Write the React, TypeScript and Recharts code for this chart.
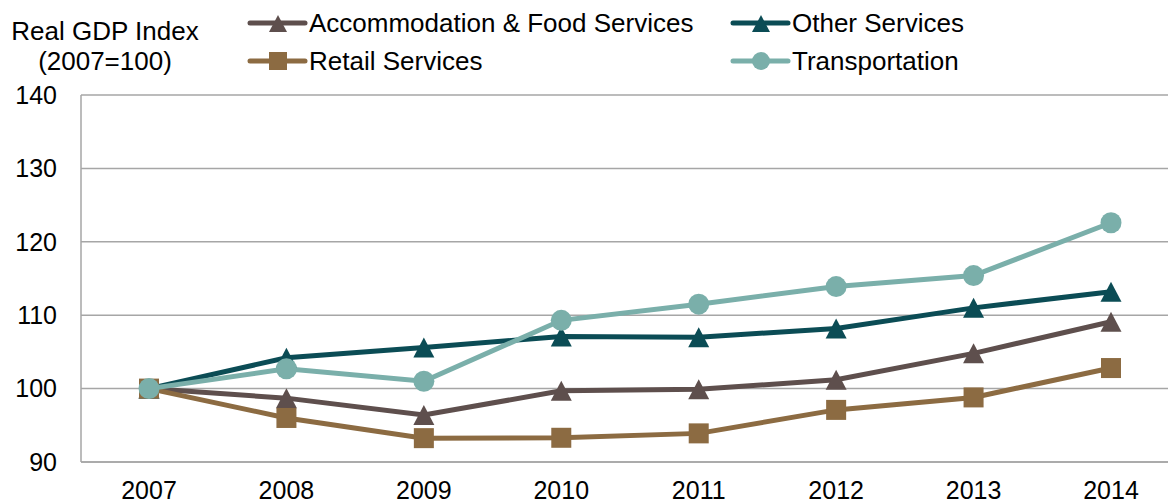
import React from 'react';
import { LineChart, Line, XAxis, YAxis, CartesianGrid } from 'recharts';

const years = ['2007', '2008', '2009', '2010', '2011', '2012', '2013', '2014'];
const accommodation = [100, 98.7, 96.4, 99.7, 99.9, 101.2, 104.8, 109.1];
const otherServices = [100, 104.2, 105.6, 107.1, 107.0, 108.2, 111.0, 113.2];
const retail = [100, 96.0, 93.25, 93.3, 93.9, 97.1, 98.8, 102.8];
const transportation = [100, 102.7, 101.0, 109.3, 111.5, 113.9, 115.4, 122.6];
const yTicks = [90, 100, 110, 120, 130, 140];

const data = years.map((y, i) => ({
  year: y,
  accommodation: accommodation[i],
  otherServices: otherServices[i],
  retail: retail[i],
  transportation: transportation[i],
}));

const FONT = '"Liberation Sans", Arial, sans-serif';

const C_ACC = '#5E4F4D';
const C_OTH = '#0B4C55';
const C_RET = '#8C6B42';
const C_TRA = '#7AAFAA';

const triangle = (color: string, w: number, h: number) => (props: any) => {
  const { cx, cy, index } = props;
  if (cx == null || cy == null) return <g key={index} />;
  const d = `M${cx},${cy - h / 2} L${cx + w / 2},${cy + h / 2} L${cx - w / 2},${cy + h / 2} Z`;
  return <path key={index} d={d} fill={color} stroke="none" />;
};

const square = (color: string, s: number) => (props: any) => {
  const { cx, cy, index } = props;
  if (cx == null || cy == null) return <g key={index} />;
  return <rect key={index} x={cx - s / 2} y={cy - s / 2} width={s} height={s} fill={color} stroke="none" />;
};

const legendItems = [
  { name: 'Accommodation & Food Services', color: C_ACC, shape: 'tri', x: 250, y: 23 },
  { name: 'Other Services', color: C_OTH, shape: 'tri', x: 733, y: 23 },
  { name: 'Retail Services', color: C_RET, shape: 'sq', x: 250, y: 61 },
  { name: 'Transportation', color: C_TRA, shape: 'circ', x: 733, y: 61 },
];

const LegendIcon = ({ item }: { item: any }) => {
  const cx = item.x + 28;
  const cy = item.y;
  let marker: React.ReactNode = null;
  if (item.shape === 'tri') {
    marker = <path d={`M${cx},${cy - 8} L${cx + 9},${cy + 9} L${cx - 9},${cy + 9} Z`} fill={item.color} />;
  } else if (item.shape === 'sq') {
    marker = <rect x={cx - 9} y={cy - 9} width={18} height={18} fill={item.color} />;
  } else {
    marker = <circle cx={cx} cy={cy} r={9} fill={item.color} />;
  }
  return (
    <g>
      <line x1={item.x} y1={cy} x2={item.x + 55} y2={cy} stroke={item.color} strokeWidth={5} strokeLinecap="round" />
      {marker}
      <text x={item.x + 59} y={cy + 9} fontSize={26} fontFamily={FONT} fill="#000">{item.name}</text>
    </g>
  );
};

export default function App() {
  return (
    <div style={{ position: 'absolute', left: 0, top: 0, width: 1168, height: 504, overflow: 'hidden', background: '#fff' }}>
      <LineChart
        width={1200}
        height={504}
        data={data}
        margin={{ top: 95, right: 21, bottom: 0, left: 0 }}
      >
        <CartesianGrid vertical={false} stroke="#A6A6A6" strokeWidth={1.5} />
        <XAxis
          dataKey="year"
          height={42}
          tickSize={0}
          tickMargin={19}
          padding={{ left: 68, right: 68 }}
          axisLine={{ stroke: '#A6A6A6', strokeWidth: 1.5 }}
          tick={{ fontSize: 25, fontFamily: FONT, fill: '#000' }}
          interval={0}
        />
        <YAxis
          width={81}
          domain={[90, 140]}
          ticks={yTicks}
          tickSize={0}
          tickMargin={24}
          axisLine={{ stroke: '#A6A6A6', strokeWidth: 1.5 }}
          tick={{ fontSize: 25, fontFamily: FONT, fill: '#000' }}
          allowDataOverflow
        />
        <Line
          dataKey="accommodation"
          stroke={C_ACC}
          strokeWidth={5}
          dot={triangle(C_ACC, 21, 20)}
          isAnimationActive={false}
        />
        <Line
          dataKey="otherServices"
          stroke={C_OTH}
          strokeWidth={5}
          dot={triangle(C_OTH, 21, 20)}
          isAnimationActive={false}
        />
        <Line
          dataKey="retail"
          stroke={C_RET}
          strokeWidth={5}
          dot={square(C_RET, 20)}
          isAnimationActive={false}
        />
        <Line
          dataKey="transportation"
          stroke={C_TRA}
          strokeWidth={5}
          dot={{ r: 10.5, fill: C_TRA, stroke: 'none' }}
          isAnimationActive={false}
        />
      </LineChart>
      <svg width={1168} height={90} style={{ position: 'absolute', left: 0, top: 0 }}>
        <text x={105} y={40} fontSize={26} fontFamily={FONT} textAnchor="middle" fill="#000">Real GDP Index</text>
        <text x={105} y={70} fontSize={26} fontFamily={FONT} textAnchor="middle" fill="#000">(2007=100)</text>
        {legendItems.map((it) => (
          <LegendIcon key={it.name} item={it} />
        ))}
      </svg>
    </div>
  );
}
